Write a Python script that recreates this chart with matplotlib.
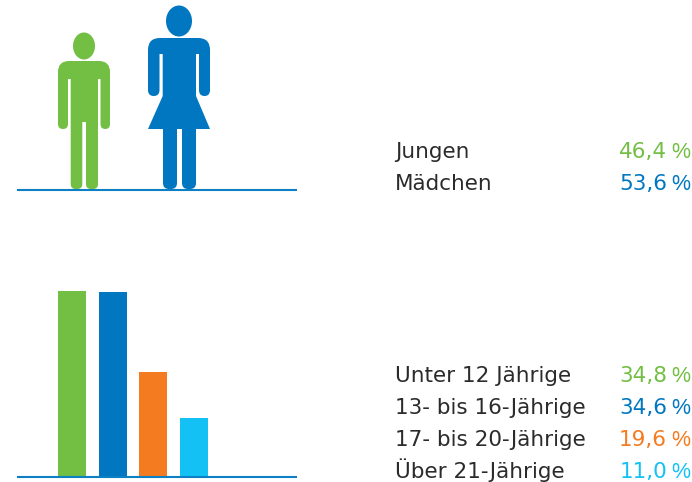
import matplotlib
matplotlib.use("Agg")
import matplotlib.pyplot as plt
from matplotlib.patches import Ellipse, PathPatch
from matplotlib.path import Path

# Data
gender_labels = ["Jungen", "Mädchen"]
gender_values = [46.4, 53.6]
age_labels = ["Unter 12 Jährige", "13- bis 16-Jährige", "17- bis 20-Jährige", "Über 21-Jährige"]
age_values = [34.8, 34.6, 19.6, 11.0]
value_texts_gender = ["46,4", "53,6"]
value_texts_age = ["34,8", "34,6", "19,6", "11,0"]

GREEN, BLUE, ORANGE, CYAN = "#72bf44", "#0077c0", "#f47b20", "#14c1f5"
LINE = "#0d7fc4"
TEXT = "#2b2b2b"
FONT = "DejaVu Sans"
FS = 15.5

W, H = 692, 482
fig = plt.figure(figsize=(W / 100, H / 100), dpi=100)
ax = fig.add_axes([0, 0, 1, 1])
ax.set_xlim(0, W)
ax.set_ylim(H, 0)
ax.axis("off")


def rounded_outline(points, radii):
    """Closed path through points, with corners rounded by the given radii."""
    verts, codes = [], []
    n = len(points)
    for i, (p, r) in enumerate(zip(points, radii)):
        a, b = points[i - 1], points[(i + 1) % n]
        def toward(q):
            dx, dy = q[0] - p[0], q[1] - p[1]
            d = (dx ** 2 + dy ** 2) ** 0.5
            t = min(r / d, 0.5) if d else 0
            return (p[0] + dx * t, p[1] + dy * t)
        s, e = toward(a), toward(b)
        verts += [s, p, e]
        codes += [Path.MOVETO if i == 0 else Path.LINETO, Path.CURVE3, Path.CURVE3]
    verts.append(verts[0])
    codes.append(Path.CLOSEPOLY)
    return Path(verts, codes)


# Pictogram outlines (icon artwork, not data)
man = [
    (58, 61, 11), (110, 61, 11), (110, 129, 5), (100.5, 129, 5), (100.5, 79, 0), (98, 79, 0),
    (98, 189, 5), (86, 189, 5), (86, 122, 0), (82.3, 122, 0), (82.3, 189, 5), (70.7, 189, 5),
    (70.7, 79, 0), (68, 79, 0), (68, 129, 5), (58, 129, 5),
]
woman = [
    (148, 38, 12), (210, 38, 12), (210, 96, 6), (199, 96, 6), (199, 54, 0), (196, 54, 0),
    (196, 96, 0), (210, 129, 0), (196, 129, 0), (196, 189, 6), (182, 189, 6), (182, 129, 0),
    (177, 129, 0), (177, 189, 6), (163, 189, 6), (163, 129, 0), (148, 129, 0), (162.7, 96, 0),
    (162.7, 54, 0), (159.5, 54, 0), (159.5, 96, 6), (148, 96, 6),
]
for outline, col, head in [(man, GREEN, (84, 46, 22, 27)), (woman, BLUE, (179, 21, 26, 31))]:
    pts = [(x, y) for x, y, _ in outline]
    rad = [r for _, _, r in outline]
    ax.add_patch(PathPatch(rounded_outline(pts, rad), fc=col, ec="none"))
    ax.add_patch(Ellipse(head[:2], head[2], head[3], fc=col, ec="none"))

ax.plot([17, 297], [189.5, 189.5], color=LINE, lw=1.5, solid_capstyle="butt", zorder=5)

# Bars, in their own axes: index positions and percentage values
pitch = 40.67
left, right, base, top = 17, 297, 477, 291
bx = fig.add_axes([left / W, 1 - base / H, (right - left) / W, (base - top) / H])
bx.set_xlim((left - 72) / pitch, (right - 72) / pitch)
bx.set_ylim(0, max(age_values))
bx.patch.set_alpha(0)
bx.bar(range(len(age_values)), age_values, width=28 / pitch,
       color=[GREEN, BLUE, ORANGE, CYAN], linewidth=0)
bx.set_xticks([])
bx.set_yticks([])
for s in ("top", "left", "right"):
    bx.spines[s].set_visible(False)
bx.spines["bottom"].set_color(LINE)
bx.spines["bottom"].set_linewidth(1.5)
bx.spines["bottom"].set_capstyle("butt")

# Text
colors = [GREEN, BLUE, ORANGE, CYAN]
rows = list(zip(gender_labels, value_texts_gender, [GREEN, BLUE], [158, 190])) + \
       list(zip(age_labels, value_texts_age, colors, [382, 414, 446, 478]))
for lab, vt, col, y in rows:
    ax.text(395, y, lab, color=TEXT, family=FONT, fontsize=FS, va="baseline", ha="left")
    ax.text(667, y, vt, color=col, family=FONT, fontsize=FS, va="baseline", ha="right")
    ax.text(690, y, "%", color=col, family="Liberation Sans", fontsize=FS, va="baseline", ha="right")

fig.savefig("out.png", dpi=100)
